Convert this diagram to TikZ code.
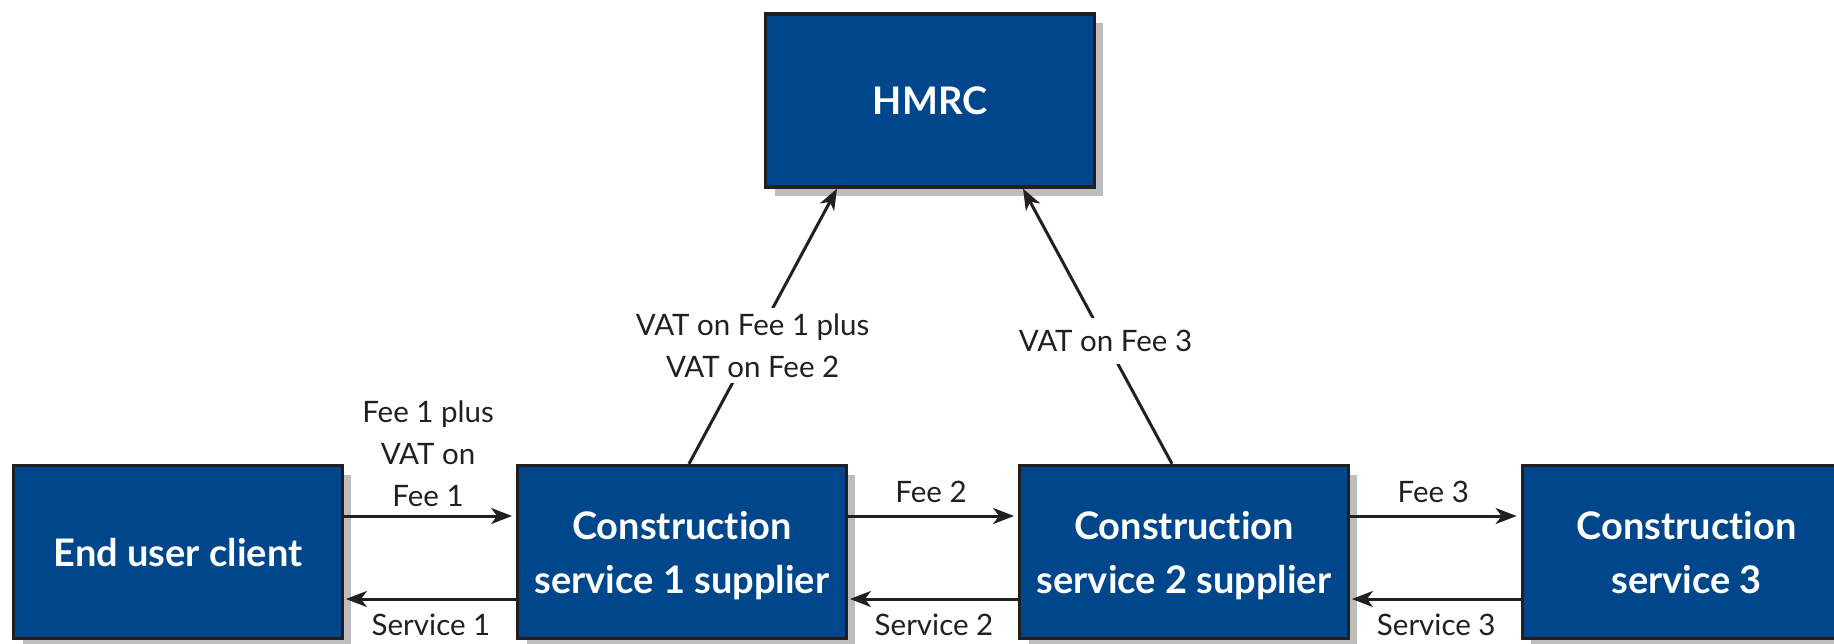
\documentclass[tikz,border=0pt]{standalone}
\usepackage{fontspec}
\setmainfont{Lato}[Ligatures=NoCommon]
\usetikzlibrary{arrows.meta,shadows}
\definecolor{boxblue}{HTML}{00468B}
\definecolor{ink}{HTML}{231F20}
\definecolor{shade}{HTML}{BDBDBD}
\begin{document}
\begin{tikzpicture}[x=1pt,y=-1pt,
  box/.style={draw=ink, line width=3.3pt, fill=boxblue, text=white,
    font=\bfseries\fontsize{38}{54}\selectfont, align=center,
    minimum width=328.5pt, minimum height=173pt, inner sep=0pt,
    drop shadow={shadow xshift=9pt, shadow yshift=-9pt, fill=shade, opacity=1}},
  lbl/.style={text=ink, font=\fontsize{29.5}{42}\selectfont, align=center, inner sep=3pt},
  arr/.style={draw=ink, line width=3pt, -{Stealth[length=21pt,width=16pt,inset=6pt]}}]
\useasboundingbox (0,0) rectangle (1834,643);
\clip (0,0) rectangle (1834,643);

\node[box, text depth=-4pt] (hmrc)   at (930,100.5) {HMRC};
\node[box, text depth=-2pt] (client) at (178,552) {End user client};
\node[box, text depth=-3pt] (s1)     at (682,552) {Construction\\service 1 supplier};
\node[box, text depth=-3pt] (s2)     at (1184,552) {Construction\\service 2 supplier};
\node[box, text depth=-3pt] (s3)     at (1686.5,552) {Construction\\service 3};

% fees
\draw[arr] ([yshift=36pt]client.east) -- node[lbl, above=5pt]{Fee 1 plus\\VAT on\\Fee 1} ([xshift=-4pt,yshift=36pt]s1.west);
\draw[arr] ([yshift=36pt]s1.east) -- node[lbl, above=9pt]{Fee 2} ([xshift=-4pt,yshift=36pt]s2.west);
\draw[arr] ([yshift=36pt]s2.east) -- node[lbl, above=9pt]{Fee 3} ([xshift=-4pt,yshift=36pt]s3.west);

% services
\draw[arr] ([yshift=-47pt]s1.west) -- node[lbl, below=10pt]{Service 1} ([xshift=2pt,yshift=-47pt]client.east);
\draw[arr] ([yshift=-47pt]s2.west) -- node[lbl, below=10pt]{Service 2} ([xshift=2pt,yshift=-47pt]s1.east);
\draw[arr] ([yshift=-47pt]s3.west) -- node[lbl, below=10pt]{Service 3} ([xshift=2pt,yshift=-47pt]s2.east);

% VAT to HMRC
\draw[arr] ([xshift=7pt]s1.north) -- node[lbl, fill=white, inner ysep=6pt, pos=0.43]{VAT on Fee 1 plus\\VAT on Fee 2} ([xshift=-93pt]hmrc.south);
\draw[arr] ([xshift=-12pt]s2.north) -- node[lbl, fill=white, inner ysep=12pt, pos=0.446]{VAT on Fee 3} ([xshift=93pt]hmrc.south);
\end{tikzpicture}
\end{document}
